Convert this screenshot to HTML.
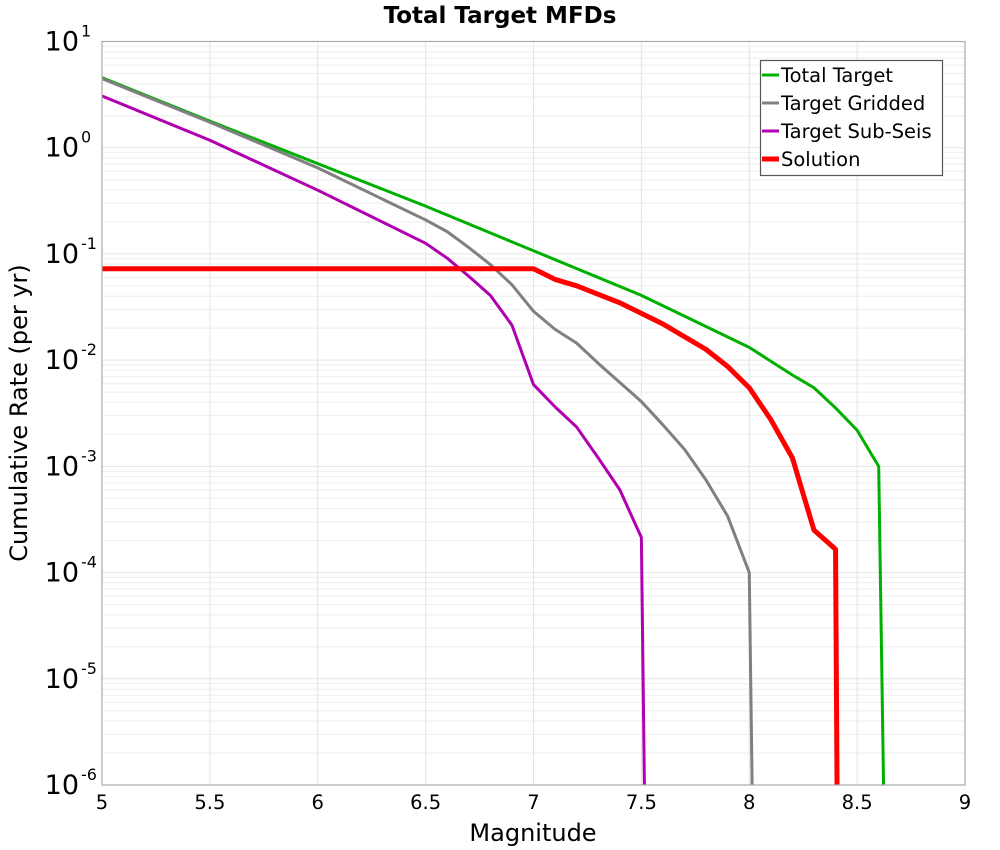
<!DOCTYPE html>
<html><head><meta charset="utf-8"><style>
body{margin:0;background:#fff;}
svg{display:block;font-family:"DejaVu Sans","Liberation Sans",sans-serif;}
</style></head><body>
<svg id="chart" width="1000" height="850" viewBox="0 0 1000 850">
<g id="grid"></g>
<g id="series"></g>
<rect x="102" y="41.5" width="863" height="743.5" fill="none" stroke="#aaa" stroke-width="1.2"/>
<g id="ticks"></g>
<text x="500" y="23" text-anchor="middle" font-size="23" font-weight="bold">Total Target MFDs</text>
<text x="533" y="841" text-anchor="middle" font-size="24">Magnitude</text>
<text transform="translate(27,413) rotate(-90)" text-anchor="middle" font-size="24">Cumulative Rate (per yr)</text>
<g>
<rect x="760.5" y="60.5" width="182" height="115" fill="#fff" stroke="#555" stroke-width="1.2"/>
<line x1="762" y1="75" x2="779" y2="75" stroke="#00b000" stroke-width="3"/>
<text x="781" y="82" font-size="19.5">Total Target</text>
<line x1="762" y1="103" x2="779" y2="103" stroke="#808080" stroke-width="3"/>
<text x="781" y="110" font-size="19.5">Target Gridded</text>
<line x1="762" y1="131" x2="779" y2="131" stroke="#b000b0" stroke-width="3"/>
<text x="781" y="138" font-size="19.5">Target Sub-Seis</text>
<line x1="762" y1="159" x2="779" y2="159" stroke="#ff0000" stroke-width="5"/>
<text x="781" y="166" font-size="19.5">Solution</text>
</g>
</svg>
<script>
const xTicks=[5,5.5,6,6.5,7,7.5,8,8.5,9];
const xTickLabels=["5","5.5","6","6.5","7","7.5","8","8.5","9"];
const yDecades=[1,0,-1,-2,-3,-4,-5,-6];
const totalMag=[5,5.5,6,6.5,7,7.5,8,8.1,8.2,8.3,8.4,8.5,8.6,8.63];
const totalLog=[0.66,0.25,-0.15,-0.55,-0.97,-1.39,-1.88,-2.01,-2.14,-2.26,-2.45,-2.66,-3.0,-7];
const griddedMag=[5,5.5,6,6.5,6.6,6.7,6.8,6.9,7,7.1,7.2,7.3,7.4,7.5,7.6,7.7,7.8,7.9,8,8.02];
const griddedLog=[0.65,0.24,-0.19,-0.68,-0.79,-0.94,-1.10,-1.29,-1.54,-1.71,-1.84,-2.03,-2.21,-2.39,-2.61,-2.84,-3.13,-3.47,-4.0,-7];
const subMag=[5,5.5,6,6.5,6.6,6.7,6.8,6.9,7,7.1,7.2,7.3,7.4,7.5,7.52];
const subLog=[0.487,0.07,-0.40,-0.90,-1.04,-1.21,-1.39,-1.67,-2.23,-2.44,-2.63,-2.92,-3.22,-3.67,-7];
const solMag=[5,7,7.1,7.2,7.3,7.4,7.5,7.6,7.7,7.8,7.9,8,8.1,8.2,8.3,8.4,8.41];
const solLog=[-1.14,-1.14,-1.24,-1.30,-1.38,-1.46,-1.56,-1.66,-1.78,-1.90,-2.06,-2.26,-2.56,-2.92,-3.60,-3.78,-7];

const NS="http://www.w3.org/2000/svg";
const X0=102,X1=965,Y0=41.5,Y1=785;
function xs(m){return X0+(m-5)/(9-5)*(X1-X0);}
function ys(l){return Y0+(1-l)/7*(Y1-Y0);}
function mk(t,p,a){const e=document.createElementNS(NS,t);for(const k in a)e.setAttribute(k,a[k]);p.appendChild(e);return e;}
const grid=document.getElementById('grid'),ticks=document.getElementById('ticks'),ser=document.getElementById('series');
for(let d=-6;d<1;d++){for(let k=2;k<=9;k++){const y=ys(d+Math.log10(k));
 const l=mk('line',grid,{x1:X0,x2:X1,y1:y,y2:y,stroke:'#eee','stroke-width':1});
 
 }}
yDecades.forEach(d=>{const y=ys(d);
 const l=mk('line',grid,{x1:X0,x2:X1,y1:y,y2:y,stroke:'#e4e4e4','stroke-width':1});
 
 
 const t=mk('text',ticks,{x:X0-23,y:y+9,'text-anchor':'end','font-size':'27'});
 
 
 t.textContent='10';
 const s=mk('text',ticks,{x:X0-21,y:y-5,'font-size':'16'});
 
 
 s.textContent=String(d);});
xTicks.forEach((m,i)=>{const x=xs(m);
 const l=mk('line',grid,{x1:x,x2:x,y1:Y0,y2:Y1,stroke:'#e4e4e4','stroke-width':1});
 
 
 const t=mk('text',ticks,{x:x,y:809,'text-anchor':'middle','font-size':'19.5'});
 
 
 t.textContent=xTickLabels[i];});
const clip=mk('clipPath',ser,{id:'pc'});mk('rect',clip,{x:X0,y:Y0,width:X1-X0,height:Y1-Y0});
function line(mags,logs,color,w,name){
 const p=mk('polyline',ser,{points:mags.map((m,i)=>xs(m)+','+ys(logs[i])).join(' '),fill:'none',stroke:color,'stroke-width':w,'stroke-linejoin':'round','clip-path':'url(#pc)'});
 
 }
line(totalMag,totalLog,'#00b000',3,'total-target-line');
line(griddedMag,griddedLog,'#808080',3,'target-gridded-line');
line(subMag,subLog,'#b000b0',3,'target-subseis-line');
line(solMag,solLog,'#ff0000',5,'solution-line');
</script>
</body></html>
